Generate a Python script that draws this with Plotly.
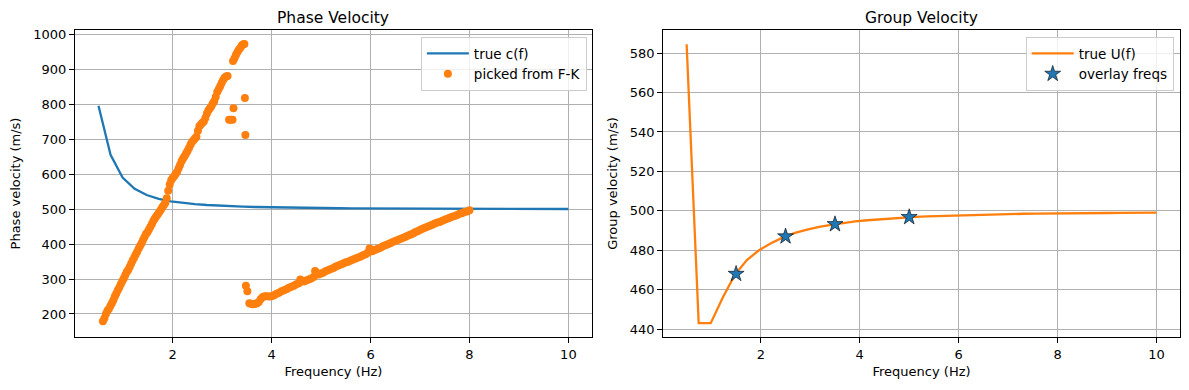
import plotly.graph_objects as go

# ---- data ----
freq = [0.5, 0.744, 0.987, 1.231, 1.474, 1.718, 1.962, 2.205, 2.449, 2.692,
        2.936, 3.179, 3.423, 3.667, 3.910, 4.154, 4.397, 4.641, 4.885, 5.128,
        5.372, 5.615, 5.859, 6.103, 6.346, 6.590, 6.833, 7.077, 7.321, 7.564,
        7.808, 8.051, 8.295, 8.538, 8.782, 9.026, 9.269, 9.513, 9.756, 10.0]

phase_true = [797, 656, 591, 559, 541, 530, 523, 518.3, 514.8, 512.3,
              510.3, 508.8, 507.6, 506.6, 505.8, 505.2, 504.6, 504.1, 503.7, 503.4,
              503.1, 502.8, 502.6, 502.4, 502.2, 502.0, 501.9, 501.8, 501.7, 501.6,
              501.5, 501.4, 501.3, 501.2, 501.2, 501.1, 501.0, 501.0, 500.9, 500.9]

group_true = [584.5, 443, 443, 456, 467.5, 475, 480, 483.5, 486.5, 488.8,
              490.5, 491.9, 492.9, 493.8, 494.6, 495.2, 495.7, 496.2, 496.6, 496.9,
              497.2, 497.4, 497.6, 497.8, 498.0, 498.1, 498.2, 498.4, 498.5, 498.6,
              498.6, 498.7, 498.8, 498.8, 498.9, 498.9, 499.0, 499.0, 499.1, 499.1]

overlay_f = [1.5, 2.5, 3.5, 5.0]
overlay_u = [468.0, 487.0, 493.2, 496.8]

# picked F-K points: steep branch
pick1_f = [0.59, 0.62, 0.65, 0.68, 0.71, 0.74, 0.77, 0.80, 0.83, 0.86,
           0.89, 0.92, 0.95, 0.98, 1.01, 1.04, 1.07, 1.10, 1.13, 1.16,
           1.19, 1.22, 1.25, 1.28, 1.31, 1.34, 1.37, 1.40, 1.43, 1.46,
           1.49, 1.52, 1.55, 1.58, 1.61, 1.64, 1.67, 1.70, 1.73, 1.76,
           1.79, 1.82, 1.85, 1.88, 1.91, 1.94, 1.97, 2.00, 2.03, 2.06,
           2.09, 2.12, 2.15, 2.18, 2.21, 2.24, 2.27, 2.30, 2.33, 2.36,
           2.39, 2.42, 2.45, 2.48, 2.51, 2.54, 2.57, 2.60, 2.63, 2.66,
           2.69, 2.72, 2.75, 2.78, 2.81, 2.84, 2.87, 2.90, 2.93, 2.96,
           2.99, 3.02, 3.05, 3.08, 3.11,
           3.22, 3.25, 3.28, 3.31, 3.34, 3.37, 3.40, 3.43, 3.45]
pick1_v = [179, 188, 200, 209, 214, 223, 231, 239, 250, 259,
           268, 276, 285, 294, 302, 311, 320, 326, 335, 344,
           353, 361, 370, 378, 387, 395, 403, 412, 421, 429,
           434, 442, 450, 458, 467, 474, 480, 486, 492, 499,
           506, 512, 518, 532, 553, 571, 583, 590, 595, 601,
           608, 618, 628, 638, 646, 652, 660, 667, 676, 685,
           693, 698, 703, 708, 725, 738, 743, 748, 752, 762,
           774, 783, 789, 795, 803, 810, 822, 836, 844, 853,
           862, 871, 877, 881, 882,
           925, 933, 943, 951, 958, 963, 970, 973, 974]

# scattered outliers
pick2_f = [3.14, 3.18, 3.21, 3.23, 3.46, 3.47, 3.48, 3.51]
pick2_v = [757, 757, 757, 790, 819, 713, 281, 265]

# shallow branch
pick3_f = [3.55, 3.58, 3.62, 3.66, 3.70, 3.74, 3.78, 3.82, 3.86, 3.90,
           3.95, 4.00, 4.05, 4.10, 4.15, 4.20, 4.25, 4.30, 4.35, 4.40,
           4.45, 4.50, 4.55, 4.58, 4.60, 4.65, 4.70, 4.75, 4.80, 4.85,
           4.88, 4.90, 4.95, 5.00, 5.05, 5.10, 5.15, 5.20, 5.25, 5.30,
           5.35, 5.40, 5.45, 5.50, 5.55, 5.60, 5.65, 5.70, 5.75, 5.80,
           5.85, 5.90, 5.95, 5.98, 6.00, 6.03, 6.05, 6.10, 6.15, 6.20,
           6.25, 6.30, 6.35, 6.40, 6.45, 6.50, 6.55, 6.60, 6.65, 6.70,
           6.75, 6.80, 6.85, 6.90, 6.95, 7.00, 7.05, 7.10, 7.15, 7.20,
           7.25, 7.30, 7.35, 7.40, 7.45, 7.50, 7.55, 7.60, 7.65, 7.70,
           7.75, 7.80, 7.85, 7.90, 7.95, 8.00]
pick3_v = [231, 229, 228, 229, 230, 234, 243, 249, 251, 251,
           250, 251, 254, 258, 261, 265, 268, 271, 275, 278,
           281, 285, 288, 299, 296, 293, 296, 299, 302, 306,
           323, 318, 313, 316, 319, 323, 326, 329, 332, 336,
           339, 342, 345, 348, 350, 353, 356, 359, 362, 365,
           368, 371, 376, 388, 385, 380, 381, 384, 387, 390,
           394, 397, 400, 403, 406, 409, 412, 415, 418, 421,
           424, 427, 430, 434, 437, 441, 444, 447, 450, 453,
           456, 459, 462, 464, 467, 470, 473, 476, 479, 481,
           484, 487, 489, 492, 494, 497]

pick_f = pick1_f + pick2_f + pick3_f
pick_v = pick1_v + pick2_v + pick3_v

x_ticks = [2, 4, 6, 8, 10]
phase_ticks = [200, 300, 400, 500, 600, 700, 800, 900, 1000]
group_ticks = [440, 460, 480, 500, 520, 540, 560, 580]

BLUE = "#1f77b4"
ORANGE = "#ff7f0e"
FONT = "DejaVu Sans"

fig = go.Figure()
fig.add_trace(go.Scatter(x=freq, y=phase_true, mode="lines", name="true c(f)",
                         line=dict(color=BLUE, width=2.3), xaxis="x", yaxis="y",
                         legend="legend"))
fig.add_trace(go.Scatter(x=pick_f, y=pick_v, mode="markers", name="picked from F-K",
                         marker=dict(color=ORANGE, size=8, line=dict(width=0)),
                         xaxis="x", yaxis="y", legend="legend"))
fig.add_trace(go.Scatter(x=freq, y=group_true, mode="lines", name="true U(f)",
                         line=dict(color=ORANGE, width=2.3), xaxis="x2", yaxis="y2",
                         legend="legend2"))
fig.add_trace(go.Scatter(x=overlay_f, y=overlay_u, mode="markers", name="overlay freqs",
                         marker=dict(color=BLUE, size=12, symbol="star",
                                     line=dict(color="black", width=0.6)),
                         xaxis="x2", yaxis="y2", legend="legend2"))

# page body has an 8 px margin; figure sized so page coordinates match the reference
OFF = 8
W, H = 1189 - 2 * OFF, 390 - 2 * OFF
L = 75 - OFF
T = 30.3 - OFF
R = W - (1180.3 - OFF)
B = H - (337.3 - OFF)
pw = W - L - R
ph = H - T - B
d1 = [0, (592 - OFF - L) / pw]
d2 = [(663.3 - OFF - L) / pw, 1]

axis_common = dict(showline=True, linecolor="black", linewidth=1, mirror=True,
                   ticks="outside", ticklen=5, tickwidth=1, tickcolor="black",
                   showgrid=True, gridcolor="#b0b0b0", gridwidth=1, zeroline=False,
                   automargin=False,
                   tickfont=dict(family=FONT, size=13, color="black"))

leg_common = dict(xanchor="right", yanchor="top", bgcolor="rgba(255,255,255,0.8)",
                  bordercolor="#cccccc", borderwidth=1, itemwidth=42,
                  font=dict(family=FONT, size=13.5), tracegroupgap=0)

fig.update_layout(
    width=W, height=H,
    margin=dict(l=L, r=R, t=T, b=B, autoexpand=False),
    paper_bgcolor="white", plot_bgcolor="white",
    font=dict(family=FONT, size=13, color="black"),
    xaxis=dict(domain=d1, range=[0.025, 10.475], tickvals=x_ticks, anchor="y",
               title=dict(text="Frequency (Hz)", standoff=6, font=dict(size=13)),
               **axis_common),
    yaxis=dict(domain=[0, 1], range=[134, 1014], tickvals=phase_ticks, anchor="x",
               title=dict(text="Phase velocity (m/s)", standoff=9, font=dict(size=13)),
               **axis_common),
    xaxis2=dict(domain=d2, range=[0.025, 10.475], tickvals=x_ticks, anchor="y2",
                title=dict(text="Frequency (Hz)", standoff=6, font=dict(size=13)),
                **axis_common),
    yaxis2=dict(domain=[0, 1], range=[436, 591.7], tickvals=group_ticks, anchor="x2",
                title=dict(text="Group velocity (m/s)", standoff=9, font=dict(size=13)),
                **axis_common),
    legend=dict(x=(587 - OFF - L) / pw, y=1 - 7 / ph, **leg_common),
    legend2=dict(x=(1174 - OFF - L) / pw, y=1 - 7 / ph, **leg_common),
    showlegend=True,
)

for dom, txt in [(d1, "Phase Velocity"), (d2, "Group Velocity")]:
    fig.add_annotation(text=txt, xref="paper", yref="paper", x=(dom[0] + dom[1]) / 2, y=1,
                       xanchor="center", yanchor="bottom", yshift=1, showarrow=False,
                       font=dict(family=FONT, size=15.5, color="black"))

fig.write_html("out.html")
